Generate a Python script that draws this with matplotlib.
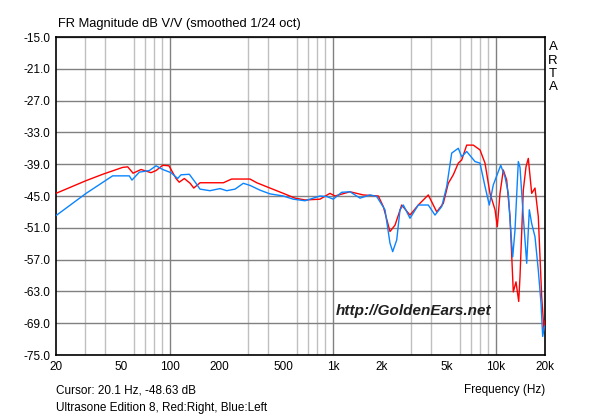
import numpy as np
import matplotlib.pyplot as plt
from matplotlib.ticker import FixedLocator, NullFormatter

plt.rcParams['font.family'] = ['Liberation Sans', 'DejaVu Sans']

# Red: Right channel
f_red = [20, 30.6, 38.7, 51.3, 55.1, 59.4, 66.5, 76.5, 82.2, 90.3, 98.7, 109, 114,
         122.5, 133, 140, 153, 213, 239, 310, 341, 411, 496, 585, 674, 833, 959,
         1030, 1272, 1535, 1898, 2038, 2239, 2404, 2642, 2970, 3340, 3846, 4332,
         4754, 5102, 5476, 5876, 6166, 6616, 7262, 7984, 8570, 9196, 9872, 10198,
         10592, 11098, 11642, 12200, 12780, 13276, 13796, 14050, 14720, 15292,
         15796, 16572, 17366, 18194, 18636, 19086, 19720, 20000]
db_red = [-44.5, -42.1, -40.9, -39.6, -39.5, -40.7, -40.0, -40.6, -40.2, -39.2, -39.3,
          -41.7, -42.4, -41.7, -42.6, -43.5, -42.5, -42.5, -41.8, -41.8, -42.5, -43.5,
          -44.5, -45.4, -45.75, -45.6, -44.5, -45.0, -44.2, -44.8, -45.0, -47.0,
          -51.7, -50.5, -46.7, -48.6, -46.7, -44.8, -48.0, -46.4, -42.6, -41.0,
          -38.8, -38.2, -35.4, -35.4, -36.3, -38.8, -44.5, -47.6, -50.8, -44.5,
          -40.1, -42.0, -48.9, -63.1, -61.2, -64.9, -60.2, -43.9, -39.5, -37.9,
          -44.5, -43.5, -48.9, -56.5, -64.0, -70.3, -68.5]

# Blue: Left channel
f_blue = [20, 30.6, 44.5, 56.3, 58.5, 64.9, 74.7, 82.2, 90.3, 101.5, 111.6, 116.9,
          131.5, 144.5, 152.9, 176, 203, 223, 251, 282, 310, 357, 411, 496, 571,
          674, 833, 916, 1005, 1132, 1272, 1466, 1688, 1856, 2086, 2239, 2326, 2462,
          2579, 2702, 2970, 3340, 3846, 4228, 4648, 4990, 5354, 5876, 6166, 6616,
          7442, 7984, 8570, 9106, 9636, 10698, 11368, 11910, 12322, 12674, 13092,
          13718, 14050, 14720, 15444, 16026, 16572, 17366, 18194, 18900, 19360,
          19720, 20000]
db_blue = [-48.7, -44.5, -41.2, -41.2, -42.0, -40.5, -40.2, -39.3, -40.0, -40.6, -41.7,
           -41.0, -40.9, -42.6, -43.7, -44.0, -43.6, -44.0, -43.7, -42.6, -43.0, -43.9,
           -44.6, -45.0, -45.6, -45.9, -45.0, -45.1, -45.6, -44.3, -44.2, -45.4, -44.8,
           -45.1, -47.6, -53.9, -55.5, -53.3, -47.6, -46.7, -49.2, -46.7, -46.7, -48.6,
           -47.0, -43.2, -36.9, -36.0, -37.6, -36.6, -38.5, -38.8, -43.2, -46.7, -42.9,
           -39.2, -41.4, -44.5, -51.4, -56.5, -51.4, -38.5, -39.6, -48.9, -57.7, -47.6,
           -50.2, -52.7, -59.0, -65.2, -71.5, -70.0, -69.5]

xticks = [20, 50, 100, 200, 500, 1000, 2000, 5000, 10000, 20000]
xlabels = ['20', '50', '100', '200', '500', '1k', '2k', '5k', '10k', '20k']
yticks = np.arange(-15, -76, -6)

fig = plt.figure(figsize=(6, 4.19), dpi=100)
ax = fig.add_axes([56 / 600, 1 - 355 / 419, 489 / 600, 318 / 419])

ax.semilogx(f_red, db_red, color='#ff0000', lw=1.0, zorder=3)
ax.semilogx(f_blue, db_blue, color='#0a84ff', lw=1.0, zorder=4)

ax.set_xlim(20, 20000)
ax.set_ylim(-75, -15)

# grid: light minor lines, darker decade lines
minor = [m * d for d in (10, 100, 1000, 10000) for m in range(2, 10) if 20 < m * d < 20000]
ax.xaxis.set_minor_locator(FixedLocator(minor))
ax.xaxis.set_minor_formatter(NullFormatter())
ax.set_xticks(xticks)
ax.set_xticklabels(xlabels)
ax.set_yticks(yticks)
ax.set_yticklabels([f'{v:.1f}' for v in yticks])
ax.grid(which='minor', axis='x', color='#c0c0c0', lw=1.0)
for d in (100, 1000, 10000):
    ax.axvline(d, color='#808080', lw=1.0, zorder=1)
ax.grid(which='major', axis='y', color='#808080', lw=1.0)
ax.tick_params(which='both', length=0, labelsize=8.5, pad=4)
for s in ax.spines.values():
    s.set_color('black')
    s.set_linewidth(1.2)

fig.text(58 / 600, 1 - 24 / 419, 'FR Magnitude dB V/V (smoothed 1/24 oct)',
         fontsize=9.3, va='center', ha='left')
for i, ch in enumerate('ARTA'):
    fig.text(553 / 600, 1 - (47 + i * 13.5) / 419, ch, fontsize=9.5, ha='center', va='center')
fig.text(56 / 600, 1 - 390 / 419, 'Cursor: 20.1 Hz, -48.63 dB', fontsize=8.5, va='center')
fig.text(545 / 600, 1 - 390 / 419, 'Frequency (Hz)', fontsize=8.5, va='center', ha='right')
fig.text(56 / 600, 1 - 408 / 419, 'Ultrasone Edition 8, Red:Right, Blue:Left', fontsize=8.5,
         va='center')
fig.text(414 / 600, 1 - 311 / 419, 'http://GoldenEars.net', fontsize=11, fontweight='bold',
         fontstyle='italic', ha='center', va='center', color='#202020', zorder=5)

fig.savefig('out.png', dpi=100)
